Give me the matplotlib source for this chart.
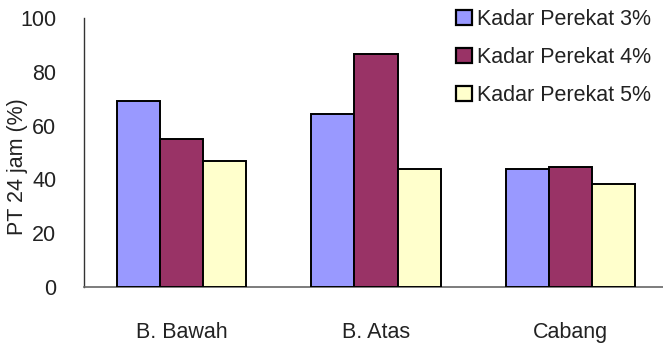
import matplotlib
matplotlib.use("Agg")
import matplotlib.pyplot as plt
import numpy as np

categories = ["B. Bawah", "B. Atas", "Cabang"]
series_names = ["Kadar Perekat 3%", "Kadar Perekat 4%", "Kadar Perekat 5%"]
values_3 = [69.1, 64.3, 43.7]
values_4 = [55.0, 86.6, 44.7]
values_5 = [46.8, 44.0, 38.2]
y_ticks = [0, 20, 40, 60, 80, 100]
colors = ["#9999FF", "#993366", "#FFFFCC"]

plt.rcParams['font.family'] = ['Liberation Sans', 'DejaVu Sans']
FS = 15.5

fig = plt.figure(figsize=(6.63, 3.43), dpi=100)
ax = fig.add_axes([84/663, 1-287/343, 1-84/663, (287-18)/343])

x = np.arange(len(categories))
w = 0.222
for i, (vals, name, c) in enumerate(zip([values_3, values_4, values_5], series_names, colors)):
    ax.bar(x + (i-1)*w, vals, width=w, color=c, edgecolor="black", linewidth=1.4, label=name, zorder=3)

ax.set_xlim(-0.501, 2.476)
ax.set_ylim(0, 100)
ax.set_yticks(y_ticks)
ax.set_xticks(x)
ax.set_xticklabels(categories)
ax.tick_params(axis='both', length=0, labelsize=FS, colors="#222222")
ax.tick_params(axis='y', pad=20)
ax.tick_params(axis='x', pad=25)
for s in ["top", "right"]:
    ax.spines[s].set_visible(False)
ax.spines["left"].set_color("#333333")
ax.spines["bottom"].set_color("#666666")
ax.spines["left"].set_linewidth(1.0)
ax.spines["bottom"].set_linewidth(1.2)

fig.text(18/663, 1-167/343, "PT 24 jam (%)", rotation=90, ha="center", va="center", fontsize=FS, color="#222222")

leg = fig.legend(loc="upper left", bbox_to_anchor=(456/663, 1-9/343), frameon=False,
                 fontsize=FS, handlelength=0.74, handleheight=0.74, handletextpad=0.23,
                 labelspacing=0.79, borderpad=0.0, borderaxespad=0.0)
for t in leg.get_texts():
    t.set_color("#222222")
for h in leg.legend_handles:
    h.set_linewidth(1.6)

fig.savefig("out.png", dpi=100)
